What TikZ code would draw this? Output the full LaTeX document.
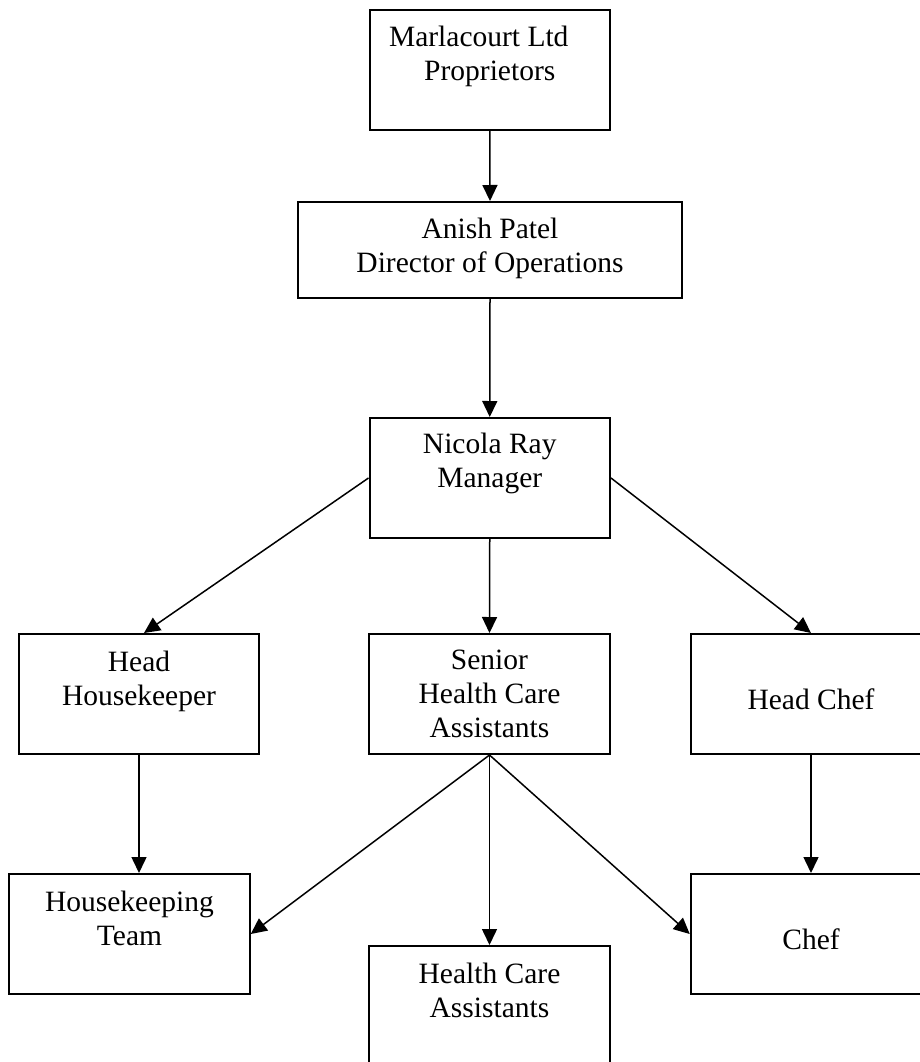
\documentclass[tikz,border=0pt]{standalone}
\usepackage{fontspec}
\setmainfont{Liberation Serif}
\usetikzlibrary{positioning,arrows.meta}

\begin{document}
\begin{tikzpicture}[x=1pt,y=-1pt,
    box/.style={draw,line width=2pt,minimum width=240.5pt,minimum height=120pt,inner sep=0pt},
    lbl/.style={align=center,inner sep=0pt,font=\fontsize{29.5}{34}\selectfont,execute at begin node=\strut},
    link/.style={line width=1.5pt,-{Triangle[length=16pt,width=15pt]}}]
    \clip (0,0) rectangle (920,1062);
    % boxes
    \node[box] (owner) at (489.75,70) {};
    \node[box,minimum width=384pt,minimum height=96pt] (director) at (490,250) {};
    \node[box] (manager) at (489.75,478) {};
    \node[box] (headhk) at (139,694) {};
    \node[box] (senior) at (489.5,694) {};
    \node[box] (headchef) at (811,694) {};
    \node[box] (team) at (129.5,934) {};
    \node[box] (hca) at (489.5,1006) {};
    \node[box] (chef) at (811,934) {};
    % texts
    \node[lbl,below=17pt of owner.north] (ownerT) {Marlacourt Ltd\hspace*{22pt}\\Proprietors};
    \node[lbl,below=17pt of director.north] (directorT) {Anish Patel\\Director of Operations};
    \node[lbl,below=16pt of manager.north] (managerT) {Nicola Ray\\Manager};
    \node[lbl,below=18pt of headhk.north] (headhkT) {Head\\Housekeeper};
    \node[lbl,below=17pt of senior.north] (seniorT) {Senior\\Health Care\\Assistants};
    \node[lbl,below=52pt of headchef.north] (headchefT) {Head Chef};
    \node[lbl,below=18pt of team.north] (teamT) {Housekeeping\\Team};
    \node[lbl,below=18pt of hca.north] (hcaT) {Health Care\\Assistants};
    \node[lbl,below=52pt of chef.north] (chefT) {Chef};
    % connectors
    \draw[link] (owner.south) -- (director.north);
    \draw[link] (director.south) -- (manager.north);
    \draw[link] (manager.west) -- ([xshift=5pt]headhk.north);
    \draw[link] (manager.south) -- (senior.north);
    \draw[link] (manager.east) -- (headchef.north);
    \draw[link] (headhk.south) -- (headhk.south |- team.north);
    \draw[link] (senior.south) -- (team.east);
    \draw[link] (senior.south) -- (hca.north);
    \draw[link] (senior.south) -- (chef.west);
    \draw[link] (headchef.south) -- (chef.north);
\end{tikzpicture}
\end{document}
